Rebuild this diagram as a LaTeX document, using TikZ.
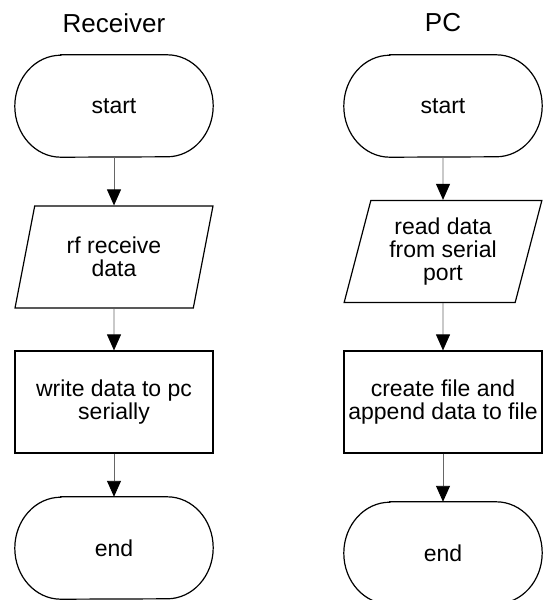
\documentclass[tikz,border=0pt]{standalone}
\usepackage{fontspec}
\setmainfont{Liberation Sans}
\usetikzlibrary{shapes.geometric,arrows.meta}

\begin{document}
\begin{tikzpicture}[x=1pt,y=-1pt,
  box/.style={minimum width=198pt,minimum height=102pt,inner sep=0pt,align=center,
    font=\fontsize{23}{23}\selectfont},
  process/.style={box,draw,line width=1.2pt},
  io/.style={box,draw,line width=1.2pt,trapezium,trapezium left angle=73.6,
    trapezium right angle=106.4,trapezium stretches},
  terminal/.style={box},
  flow/.style={draw=black!60,line width=0.9pt,-{Triangle[length=16pt,width=14pt,black]}},
  heading/.style={font=\fontsize{26}{26}\selectfont}]
\useasboundingbox (0,0) rectangle (544,600);

% Column titles
\node[heading] (rtitle) at (114,23) {Receiver};
\node[heading] (ptitle) at (443,23) {PC};

% Receiver side
\node[terminal] (rstart) at (114,106) {start};
\node[io] (rread) at (114,257) {rf receive\\data};
\node[process] (rwrite) at (114,402) {write data to pc\\serially};
\node[terminal] (rend) at (114,548) {end};

% PC side
\node[terminal] (pstart) at (443,106) {start};
\node[io] (pread) at (443,251.5) {read data\\from serial\\port};
\node[process] (pwrite) at (443,402) {create file and\\append data to file};
\node[terminal] (pend) at (443,553) {end};

% Start / end outlines
\foreach \n in {rstart,rend,pstart,pend}
  \draw[line width=1.2pt] ([xshift=46pt]\n.north west) -- ([xshift=-46pt]\n.north east)
    arc[start angle=90,end angle=-90,x radius=46pt,y radius=51pt]
    -- ([xshift=46pt]\n.south west)
    arc[start angle=270,end angle=90,x radius=46pt,y radius=51pt] -- cycle;

% Flow arrows
\draw[flow] (rstart) -- (rread);
\draw[flow] (rread) -- (rwrite);
\draw[flow] (rwrite) -- (rend);
\draw[flow] (pstart) -- (pread);
\draw[flow] (pread) -- (pwrite);
\draw[flow] (pwrite) -- (pend);
\end{tikzpicture}
\end{document}
